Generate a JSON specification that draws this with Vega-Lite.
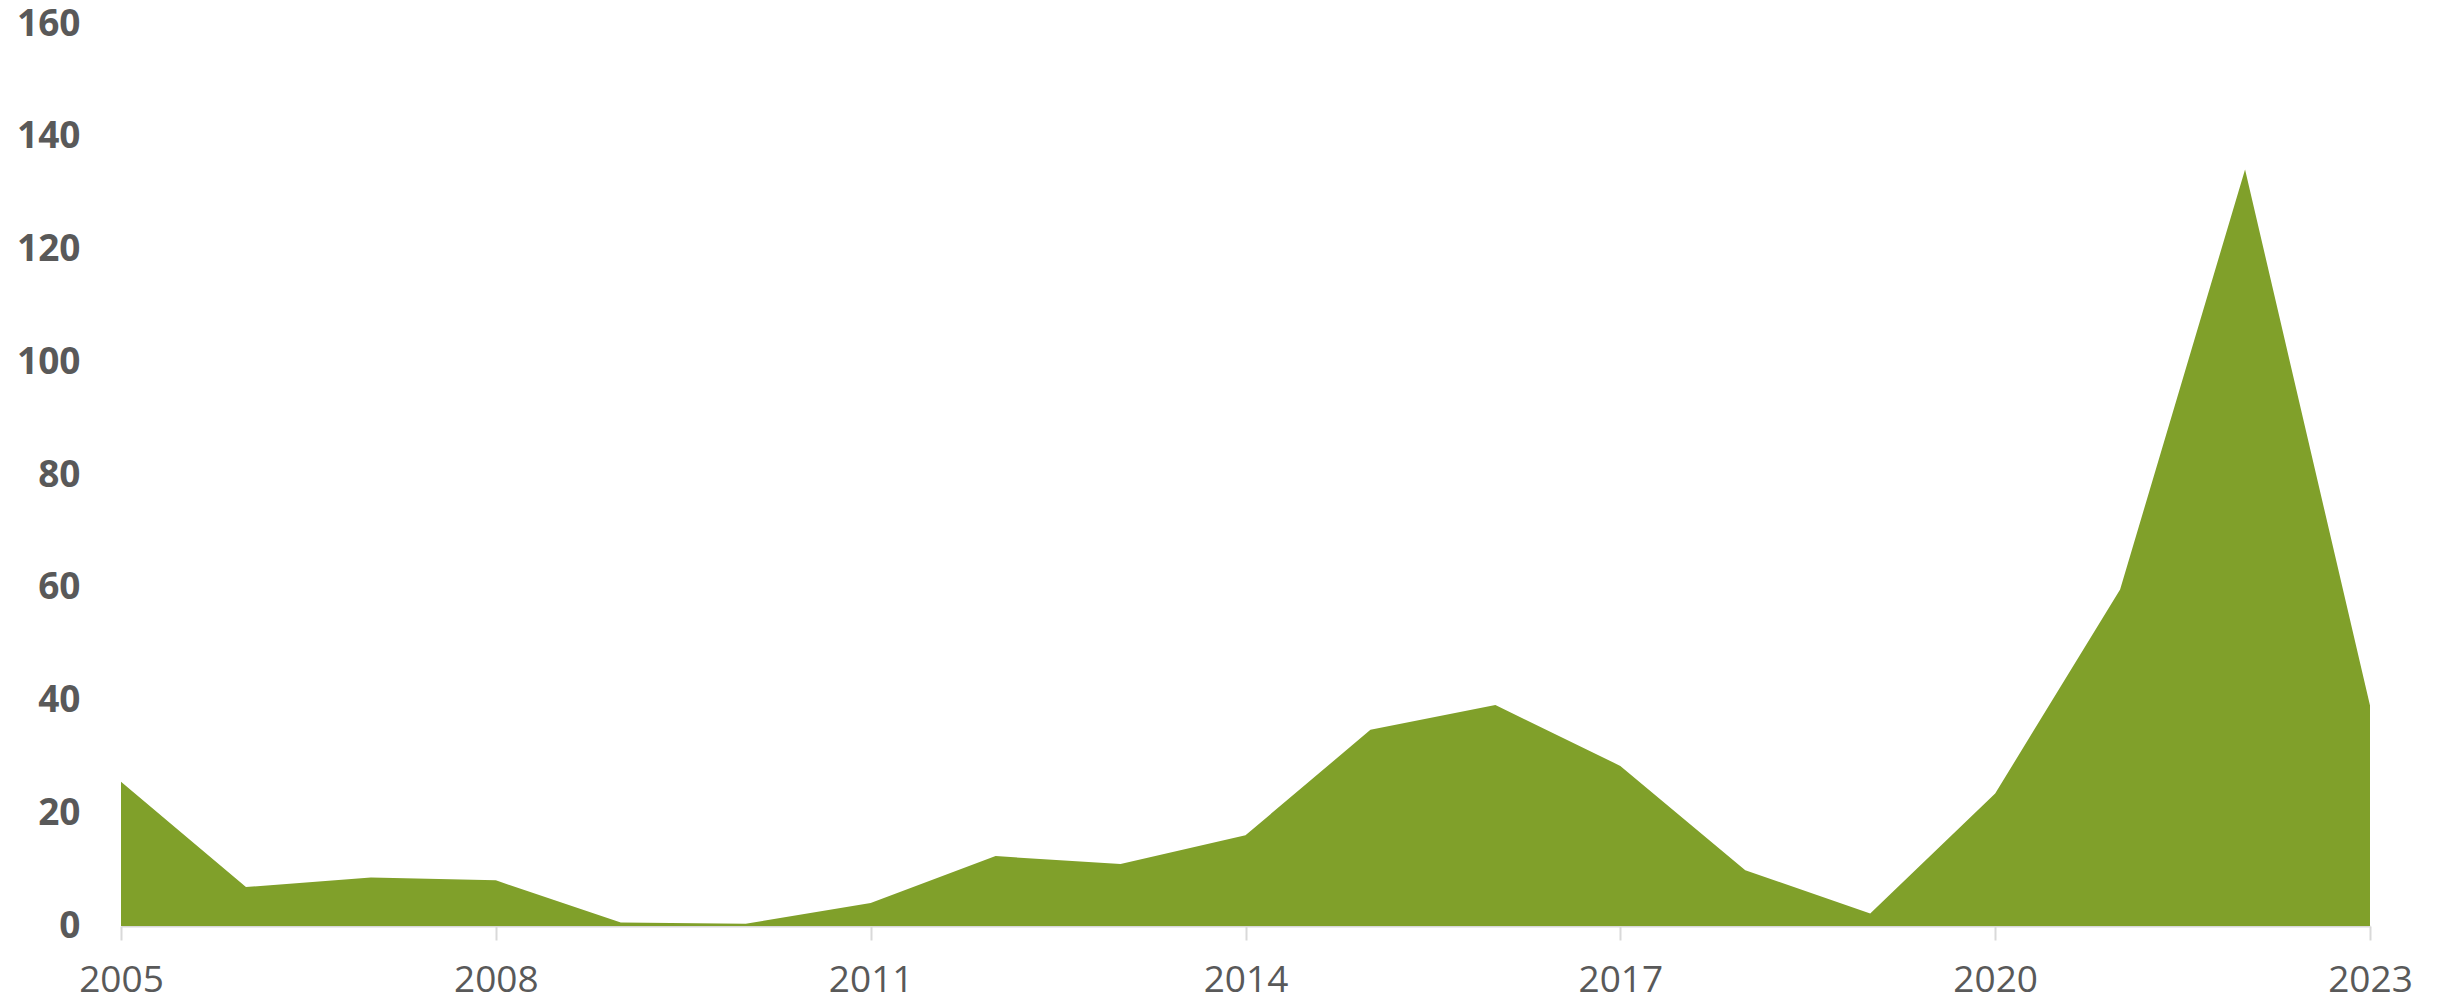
{
  "$schema": "https://vega.github.io/schema/vega-lite/v6.json",
  "autosize": "none",
  "width": 2249,
  "height": 902,
  "padding": {"left": 121, "top": 24, "right": 67, "bottom": 75},
  "background": "white",
  "config": {
    "view": {"stroke": null},
    "font": "Open Sans"
  },
  "data": {
    "values": [
      {"year": 2005, "value": 25.6},
      {"year": 2006, "value": 6.9},
      {"year": 2007, "value": 8.6},
      {"year": 2008, "value": 8.1},
      {"year": 2009, "value": 0.6},
      {"year": 2010, "value": 0.4},
      {"year": 2011, "value": 4.1},
      {"year": 2012, "value": 12.4},
      {"year": 2013, "value": 11.0},
      {"year": 2014, "value": 16.1},
      {"year": 2015, "value": 34.8},
      {"year": 2016, "value": 39.2},
      {"year": 2017, "value": 28.4},
      {"year": 2018, "value": 9.9},
      {"year": 2019, "value": 2.2},
      {"year": 2020, "value": 23.5},
      {"year": 2021, "value": 59.7},
      {"year": 2022, "value": 134.2},
      {"year": 2023, "value": 39.1}
    ]
  },
  "mark": {"type": "area", "color": "#80A02A", "interpolate": "linear"},
  "encoding": {
    "x": {
      "field": "year",
      "type": "quantitative",
      "scale": {"domain": [2005, 2023], "nice": false, "zero": false},
      "axis": {
        "title": null,
        "values": [2005, 2008, 2011, 2014, 2017, 2020, 2023],
        "format": "d",
        "grid": false,
        "domainColor": "#d9d9d9",
        "domainWidth": 2,
        "tickColor": "#d9d9d9",
        "tickWidth": 2,
        "tickSize": 14,
        "labelFont": "Open Sans",
        "labelFontSize": 37,
        "labelColor": "#595959",
        "labelPadding": 22,
        "labelFlush": false
      }
    },
    "y": {
      "field": "value",
      "type": "quantitative",
      "scale": {"domain": [0, 160], "nice": false},
      "axis": {
        "title": null,
        "values": [0, 20, 40, 60, 80, 100, 120, 140, 160],
        "grid": false,
        "domain": false,
        "ticks": false,
        "labelFont": "Open Sans",
        "labelFontSize": 37,
        "labelFontWeight": "bold",
        "labelColor": "#595959",
        "labelPadding": 41
      }
    }
  }
}
